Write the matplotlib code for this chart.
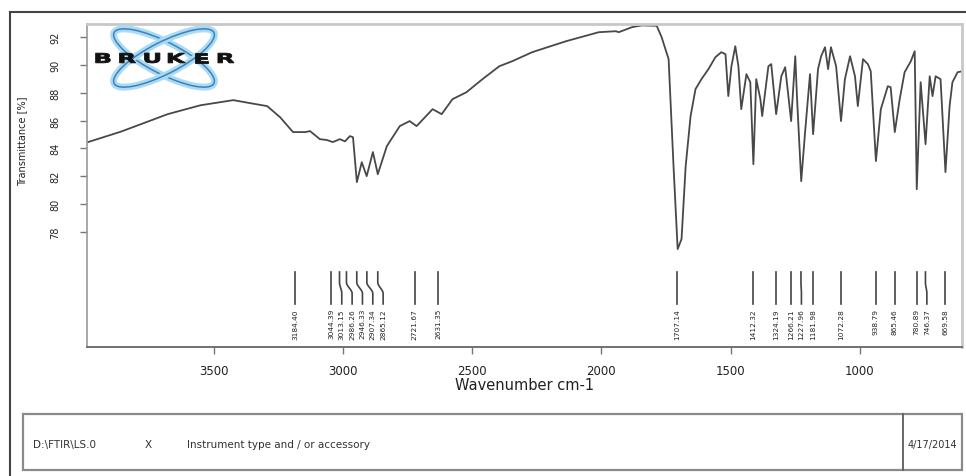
import numpy as np
import matplotlib
matplotlib.use("Agg")
import matplotlib.pyplot as plt
from matplotlib.patches import Ellipse, Rectangle, PathPatch
from matplotlib.textpath import TextPath
from matplotlib.font_manager import FontProperties
from matplotlib.transforms import Affine2D

# ---------------- data ----------------
wavenumber = [3986, 3859, 3678, 3551, 3424, 3358, 3293, 3243, 3193, 3146,
              3127, 3089, 3062, 3039, 3012, 2992, 2973, 2961, 2946, 2927,
              2908, 2884, 2865, 2830, 2780, 2742, 2715, 2653, 2618, 2576,
              2522, 2460, 2395, 2345, 2268, 2137, 2010, 1944, 1933, 1882,
              1844, 1786, 1767, 1740, 1721, 1705, 1690, 1674, 1655, 1636,
              1613, 1586, 1559, 1536, 1520, 1509, 1497, 1482, 1470, 1459,
              1439, 1424, 1412, 1401, 1385, 1378, 1354, 1343, 1324, 1304,
              1289, 1266, 1250, 1243, 1227, 1212, 1193, 1181, 1162, 1150,
              1135, 1123, 1112, 1092, 1073, 1058, 1038, 1019, 1008, 988,
              969, 958, 938, 919, 892, 881, 865, 846, 827, 803,
              788, 780, 765, 746, 730, 719, 707, 688, 669, 653,
              642, 622, 603]
transmittance = [84.45, 85.2, 86.46, 87.1, 87.47, 87.25, 87.04, 86.24, 85.17, 85.17,
                 85.24, 84.66, 84.6, 84.45, 84.66, 84.5, 84.88, 84.8, 81.57, 83.0,
                 82.0, 83.73, 82.14, 84.16, 85.6, 85.96, 85.6, 86.82, 86.46, 87.54,
                 88.04, 88.98, 89.91, 90.27, 90.92, 91.71, 92.36, 92.43, 92.36, 92.72,
                 92.85, 92.82, 92.0, 90.42, 82.72, 76.75, 77.47, 82.72, 86.32, 88.26,
                 88.98, 89.7, 90.56, 90.92, 90.78, 87.76, 89.91, 91.35, 89.91, 86.82,
                 89.34, 88.76, 82.86, 88.98, 87.54, 86.32, 89.91, 90.06, 86.46, 89.19,
                 89.84, 85.96, 90.63, 87.54, 81.64, 85.17, 89.34, 85.02, 89.7, 90.63,
                 91.28, 89.7, 91.28, 89.91, 85.96, 88.98, 90.63, 89.19, 87.04, 90.42,
                 90.06, 89.55, 83.08, 86.82, 88.47, 88.4, 85.17, 87.54, 89.48, 90.27,
                 90.99, 81.06, 88.76, 84.3, 89.19, 87.76, 89.19, 88.98, 82.29, 87.04,
                 88.76, 89.48, 89.55]

peak_positions = [3184.40, 3044.39, 3013.15, 2986.26, 2946.33, 2907.34, 2865.12,
                  2721.67, 2631.35, 1707.14, 1412.32, 1324.19, 1266.21, 1227.96,
                  1181.98, 1072.28, 938.79, 865.46, 780.89, 746.37, 669.58]
peak_labels = ["3184.40", "3044.39", "3013.15", "2986.26", "2946.33", "2907.34",
               "2865.12", "2721.67", "2631.35", "1707.14", "1412.32", "1324.19",
               "1266.21", "1227.96", "1181.98", "1072.28", "938.79", "865.46",
               "780.89", "746.37", "669.58"]

x_ticks = [3500, 3000, 2500, 2000, 1500, 1000]
y_ticks = [78, 80, 82, 84, 86, 88, 90, 92]

footer_file = "D:\\FTIR\\LS.0"
footer_mark = "X"
footer_desc = "Instrument type and / or accessory"
footer_date = "4/17/2014"

# ---------------- figure ----------------
W, H = 966, 477
fig = plt.figure(figsize=(W / 100, H / 100), dpi=100)
fig.patch.set_facecolor("white")

L, R, T, B = 87, 962, 25, 348
ax = fig.add_axes([L / W, 1 - B / H, (R - L) / W, (B - T) / H])
ax.plot(wavenumber, transmittance, color="#484848", lw=1.3, solid_joinstyle="round")
ax.set_xlim(3990, 605)
ax.set_ylim(69.7, 92.95)

ax.set_xticks(x_ticks)
ax.set_xticklabels([str(t) for t in x_ticks])
ax.set_yticks(y_ticks)
ax.set_yticklabels([str(t) for t in y_ticks], rotation=90, va="center")
ax.tick_params(axis="x", length=5, width=1, color="#777", pad=7,
               labelsize=8.5, labelcolor="#222")
ax.tick_params(axis="y", length=5, width=1, color="#777", pad=14,
               labelsize=7, labelcolor="#222")
ax.set_xlabel("Wavenumber cm-1", fontsize=10.5, color="#222", labelpad=0)
ax.set_ylabel("Transmittance [%]", fontsize=7, color="#222")
ax.yaxis.set_label_coords(-0.068, 0.64)

for side in ("top", "right"):
    ax.spines[side].set_color("#c8c8c8")
    ax.spines[side].set_linewidth(2)
ax.spines["left"].set_color("#999")
ax.spines["left"].set_linewidth(1.2)
ax.spines["bottom"].set_color("#666")
ax.spines["bottom"].set_linewidth(1.3)

# ---------------- peak labels ----------------
sep = 40.0
label_pos = []
for i, p in enumerate(peak_positions):
    if i == 0:
        label_pos.append(p)
    else:
        label_pos.append(min(p, label_pos[-1] - sep))

y_top, y_k1, y_k2, y_bot, y_text = 75.1, 74.35, 73.55, 72.8, 72.5
for p, lp, lab in zip(peak_positions, label_pos, peak_labels):
    t = np.linspace(0, 1, 30)
    s = t * t * (3 - 2 * t)
    xs = np.concatenate([[p, p], p + (lp - p) * s, [lp, lp]])
    ys = np.concatenate([[y_top, y_k1], y_k1 + (y_k2 - y_k1) * t, [y_k2, y_bot]])
    ax.plot(xs, ys, color="#444", lw=1.2)
    ax.text(lp, y_text, lab, rotation=90, ha="center", va="top",
            fontsize=5.3, color="#222")

# ---------------- overlay: frame, logo, footer ----------------
ov = fig.add_axes([0, 0, 1, 1], zorder=10)
ov.set_xlim(0, W)
ov.set_ylim(H, 0)
ov.axis("off")
ov.patch.set_alpha(0)

ov.plot([10, W], [13, 13], color="#444", lw=1.5)
ov.plot([10, 10], [13, H], color="#444", lw=1.5)

# Bruker logo
for ang in (27, -27):
    ov.add_patch(Ellipse((164, 59), 112, 32, angle=ang, fill=False,
                         ec="#a9dcf2", lw=5))
    ov.add_patch(Ellipse((164, 59), 112, 32, angle=ang, fill=False,
                         ec="#3f7fbf", lw=1.1))
fp = FontProperties(family="DejaVu Sans", weight="bold")
for i, ch in enumerate("BRUKER"):
    tp = TextPath((0, 0), ch, size=14, prop=fp)
    bb = tp.get_extents()
    tr = (Affine2D().translate(-(bb.x0 + bb.x1) / 2, -(bb.y0 + bb.y1) / 2)
          .scale(1.75, -0.95).translate(103 + i * 24.6, 59))
    ov.add_patch(PathPatch(tr.transform_path(tp), fc="#111", ec="#111", lw=0.6))

# footer box
ov.add_patch(Rectangle((23, 415), 939, 56, fill=False, ec="#8a8a8a", lw=1.6))
ov.plot([903, 903], [415, 471], color="#666", lw=1.4)
ov.text(33, 445, footer_file, fontsize=7.5, va="center", color="#333")
ov.text(145, 445, footer_mark, fontsize=7.5, va="center", color="#333")
ov.text(187, 445, footer_desc, fontsize=7.5, va="center", color="#333")
ov.text(932, 445, footer_date, fontsize=7, va="center", ha="center", color="#333")

fig.savefig("out.png", dpi=100)
